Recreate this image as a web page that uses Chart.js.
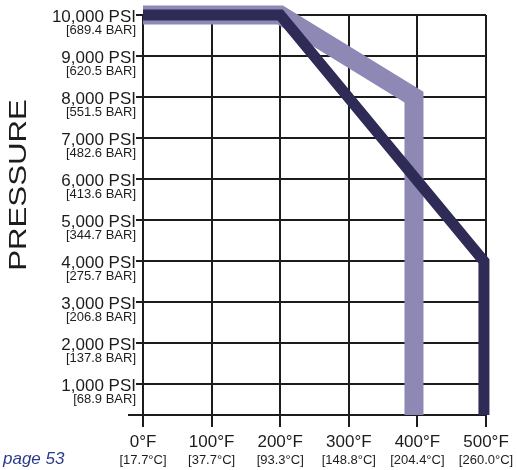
<!DOCTYPE html>
<html>
<head>
<meta charset="utf-8">
<script src="https://cdn.jsdelivr.net/npm/chart.js"></script>
<style>
  body { margin: 0; background: #fff; }
  #wrap { width: 517px; height: 470px; position: relative; }
</style>
</head>
<body>
<div id="wrap"><canvas id="myChart"></canvas></div>
<script>
// x axis: temperature
const tempValues = [0, 100, 200, 300, 400, 500];
const tempF = ['0°F', '100°F', '200°F', '300°F', '400°F', '500°F'];
const tempC = ['[17.7°C]', '[37.7°C]', '[93.3°C]', '[148.8°C]', '[204.4°C]', '[260.0°C]'];

// y axis: pressure
const psiValues = [1000, 2000, 3000, 4000, 5000, 6000, 7000, 8000, 9000, 10000];
const psiLabels = ['1,000 PSI', '2,000 PSI', '3,000 PSI', '4,000 PSI', '5,000 PSI',
  '6,000 PSI', '7,000 PSI', '8,000 PSI', '9,000 PSI', '10,000 PSI'];
const barLabels = ['[68.9 BAR]', '[137.8 BAR]', '[206.8 BAR]', '[275.7 BAR]', '[344.7 BAR]',
  '[413.6 BAR]', '[482.6 BAR]', '[551.5 BAR]', '[620.5 BAR]', '[689.4 BAR]'];
const psiMin = 250;
const psiMax = 10000;

// rating curves (°F, psi)
const darkTemps = [0, 200, 497, 497];
const darkPsi = [10000, 10000, 4000, 250];
const lightTemps = [0, 200, 395, 395];
const lightPsi = [10000, 10000, 8000, 250];

const toPoints = (xs, ys) => xs.map((t, i) => ({ x: t, y: ys[i] }));

const FONT = '"Liberation Sans", Arial, sans-serif';
const INK = '#1c1c1c';

// draws the two-line tick labels, the axis title and the page note
const labelsPlugin = {
  id: 'labelsPlugin',
  afterDraw(chart) {
    const { ctx, chartArea, scales: { x, y } } = chart;
    ctx.save();
    ctx.fillStyle = INK;
    ctx.textBaseline = 'alphabetic';

    // y labels
    ctx.textAlign = 'right';
    psiValues.forEach((v, i) => {
      const py = y.getPixelForValue(v);
      ctx.font = '17px ' + FONT;
      ctx.fillText(psiLabels[i], chartArea.left - 7, py + 6.5);
      ctx.font = '13px ' + FONT;
      ctx.fillText(barLabels[i], chartArea.left - 7, py + 19);
    });

    // x labels
    ctx.textAlign = 'center';
    tempValues.forEach((v, i) => {
      const px = x.getPixelForValue(v);
      ctx.font = '17px ' + FONT;
      ctx.fillText(tempF[i], px, chartArea.bottom + 32);
      ctx.font = '13px ' + FONT;
      ctx.fillText(tempC[i], px, chartArea.bottom + 48.5);
    });

    // little extension of the base line to the left
    ctx.strokeStyle = INK;
    ctx.lineWidth = 2;
    ctx.beginPath();
    ctx.moveTo(chartArea.left - 15, chartArea.bottom);
    ctx.lineTo(chartArea.left, chartArea.bottom);
    ctx.stroke();

    // axis title
    ctx.save();
    ctx.translate(18.5, (chartArea.top + chartArea.bottom) / 2 - 30);
    ctx.rotate(-Math.PI / 2);
    ctx.scale(1.3, 1);
    ctx.textAlign = 'center';
    ctx.textBaseline = 'middle';
    ctx.font = '24px ' + FONT;
    ctx.fillText('PRESSURE', 0, 1);
    ctx.restore();

    // page note
    ctx.fillStyle = '#2b3b8c';
    ctx.textAlign = 'left';
    ctx.font = 'italic 17px ' + FONT;
    ctx.fillText('page 53', 3, 464);
    ctx.restore();
  }
};

const ctx = document.getElementById('myChart').getContext('2d');
new Chart(ctx, {
  type: 'line',
  data: {
    datasets: [
      {
        label: 'dark',
        data: toPoints(darkTemps, darkPsi),
        borderColor: '#2e2b57',
        borderWidth: 11,
        borderJoinStyle: 'miter',
        borderCapStyle: 'butt',
        pointRadius: 0,
        tension: 0,
        fill: false,
        clip: false,
      },
      {
        label: 'light',
        data: toPoints(lightTemps, lightPsi),
        borderColor: '#8e88b5',
        borderWidth: 19,
        borderJoinStyle: 'miter',
        borderCapStyle: 'butt',
        pointRadius: 0,
        tension: 0,
        fill: false,
        clip: false,
      },
    ],
  },
  options: {
    responsive: true,
    maintainAspectRatio: false,
    animation: false,
    layout: { padding: { left: 136, right: 31, top: 15, bottom: 43 } },
    plugins: { legend: { display: false }, tooltip: { enabled: false } },
    scales: {
      x: {
        type: 'linear',
        min: 0,
        max: 500,
        afterBuildTicks: (scale) => { scale.ticks = tempValues.map(v => ({ value: v })); },
        afterFit: (scale) => { scale.height = 12; },
        ticks: { display: false },
        grid: { color: INK, lineWidth: 2, tickLength: 12, drawTicks: true },
        border: { display: true, color: INK, width: 2 },
      },
      y: {
        type: 'linear',
        min: psiMin,
        max: psiMax,
        afterBuildTicks: (scale) => { scale.ticks = psiValues.map(v => ({ value: v })); },
        afterFit: (scale) => { scale.width = 7; },
        ticks: { display: false },
        grid: { color: INK, lineWidth: 2, tickLength: 7, drawTicks: true },
        border: { display: true, color: INK, width: 2 },
      },
    },
  },
  plugins: [labelsPlugin],
});
</script>
</body>
</html>
